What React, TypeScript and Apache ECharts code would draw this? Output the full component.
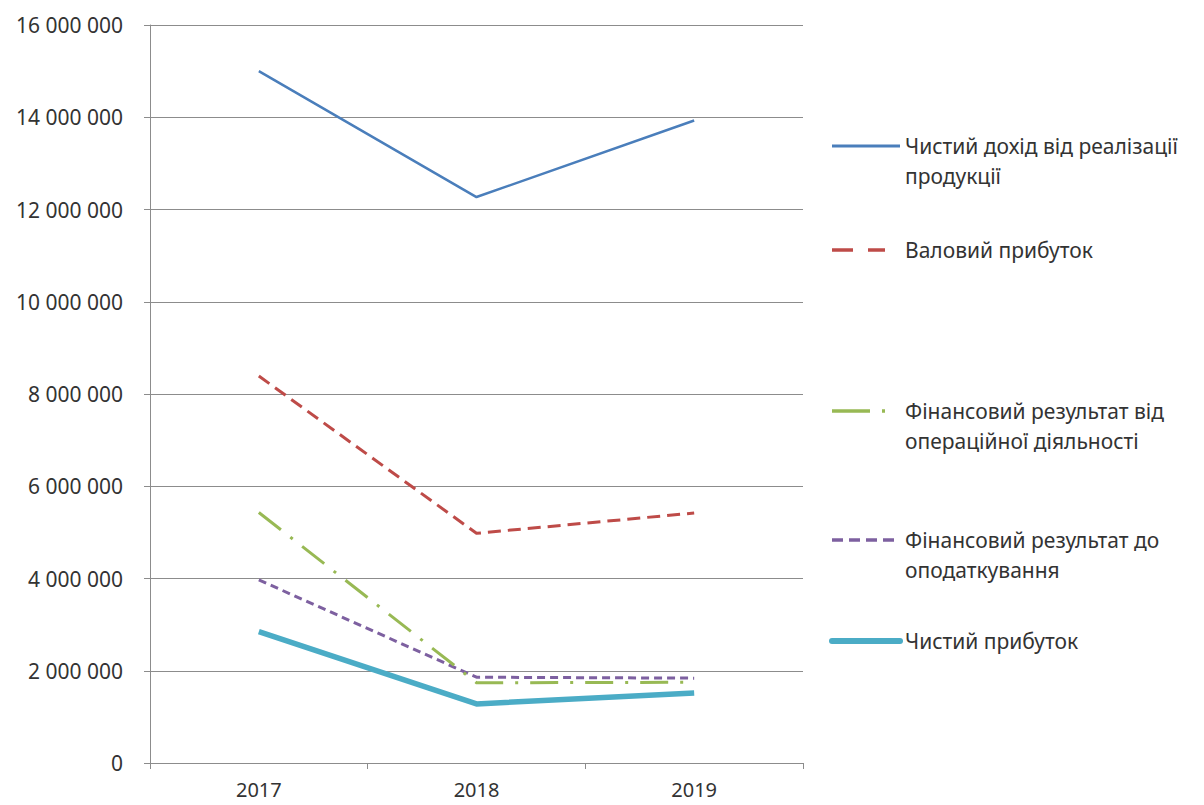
import React, { useEffect, useRef } from "react";
import * as echarts from "echarts";

// Years on the category axis
const years = ["2017", "2018", "2019"];

// Series values, UAH
const netRevenue = [15000000, 12270000, 13930000];
const grossProfit = [8390000, 4980000, 5420000];
const operatingResult = [5430000, 1740000, 1750000];
const preTaxResult = [3970000, 1860000, 1840000];
const netProfit = [2850000, 1280000, 1520000];

// Series names and the wrapped legend captions
const names = [
  "Чистий дохід від реалізації продукції",
  "Валовий прибуток",
  "Фінансовий результат від операційної діяльності",
  "Фінансовий результат до оподаткування",
  "Чистий прибуток",
];
const captions = [
  "Чистий дохід від реалізації\nпродукції",
  "Валовий прибуток",
  "Фінансовий результат від\nопераційної діяльності",
  "Фінансовий результат до\nоподаткування",
  "Чистий прибуток",
];

const FONT = "'Noto Sans', 'Open Sans', sans-serif";
const TEXT = "#333333";

const styles = [
  { color: "#4A7EBB", width: 2.5, dash: null as number[] | null, legendDash: null as number[] | null, legendEnd: 900 },
  { color: "#BE4B48", width: 3, dash: [13, 7], legendDash: [21, 15], legendEnd: 885 },
  { color: "#98B954", width: 3, dash: [28, 12, 3, 12], legendDash: [38, 12, 3, 20], legendEnd: 886 },
  { color: "#7D60A0", width: 3, dash: [8, 5], legendDash: [11, 6], legendEnd: 900 },
  { color: "#4BACC6", width: 5.5, dash: null, legendDash: null, legendEnd: 900 },
];

const legendY = [146, 250, 411, 540, 641];

function fmt(v: number): string {
  return String(Math.round(v)).replace(/\B(?=(\d{3})+(?!\d))/g, " ");
}

export default function App() {
  const ref = useRef<HTMLDivElement>(null);

  useEffect(() => {
    if (!ref.current) return;
    const chart = echarts.init(ref.current, null, { renderer: "svg" });
    const values = [netRevenue, grossProfit, operatingResult, preTaxResult, netProfit];

    const series = values.map((data, i) => ({
      name: names[i],
      type: "line" as const,
      data,
      symbol: "none",
      lineStyle: {
        color: styles[i].color,
        width: styles[i].width,
        type: styles[i].dash ? styles[i].dash : "solid",
        cap: "butt",
        join: "round",
      },
      z: 10 - i,
    }));

    const legendGraphics: any[] = [];
    styles.forEach((s, i) => {
      legendGraphics.push({
        type: "line",
        shape: { x1: 832, y1: legendY[i], x2: s.legendEnd, y2: legendY[i] },
        style: {
          stroke: s.color,
          lineWidth: s.width + 0.5,
          lineDash: s.legendDash || undefined,
          lineCap: i === 4 ? "round" : "butt",
        },
      });
      legendGraphics.push({
        type: "text",
        x: 905,
        y: legendY[i] - 15,
        style: {
          text: captions[i],
          font: `21px ${FONT}`,
          fill: TEXT,
          lineHeight: 30,
          textVerticalAlign: "top",
        },
      });
    });

    chart.setOption({
      animation: false,
      backgroundColor: "#ffffff",
      grid: { left: 150, right: 401, top: 25, bottom: 42, containLabel: false },
      xAxis: {
        type: "category",
        data: years,
        boundaryGap: true,
        axisLine: { show: true, lineStyle: { color: "#8C8C8C", width: 1 } },
        axisTick: { show: true, alignWithLabel: false, length: 6, lineStyle: { color: "#8C8C8C" } },
        axisLabel: { color: TEXT, fontSize: 20, fontFamily: FONT, margin: 14, lineHeight: 24 },
      },
      yAxis: {
        type: "value",
        min: 0,
        max: 16000000,
        interval: 2000000,
        axisLine: { show: true, lineStyle: { color: "#8C8C8C", width: 1 } },
        axisTick: { show: true, length: 6, lineStyle: { color: "#8C8C8C" } },
        splitLine: { show: true, lineStyle: { color: "#8C8C8C", width: 1 } },
        axisLabel: {
          color: TEXT,
          fontSize: 21,
          fontFamily: FONT,
          margin: 27,
          formatter: (v: number) => fmt(v),
        },
      },
      series,
      graphic: legendGraphics,
    });

    return () => chart.dispose();
  }, []);

  return (
    <div
      ref={ref}
      style={{ position: "fixed", left: 0, top: 0, width: 1204, height: 805, background: "#fff" }}
    />
  );
}
